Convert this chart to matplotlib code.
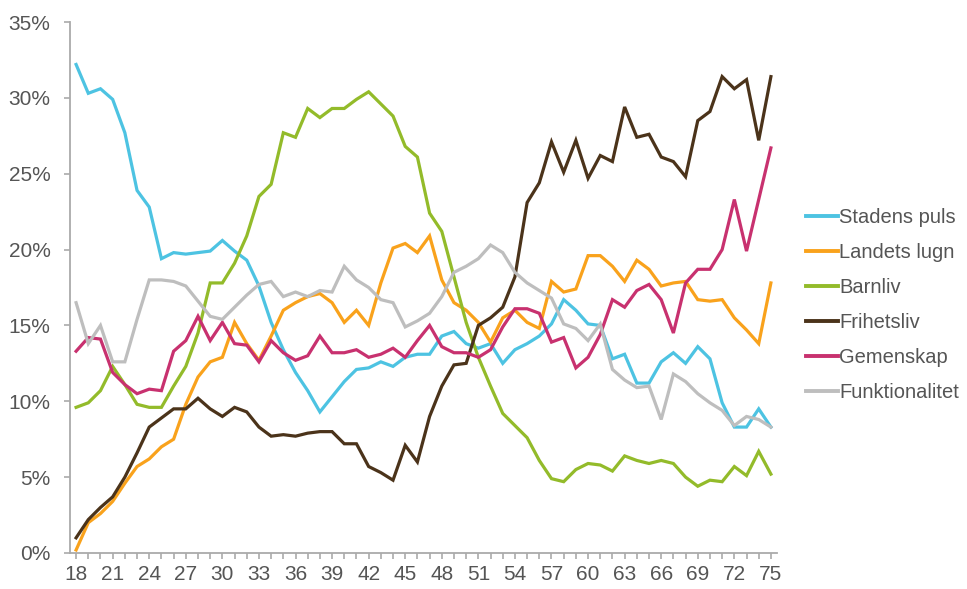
import matplotlib.pyplot as plt
import numpy as np
from matplotlib.ticker import MultipleLocator, FuncFormatter

plt.rcParams['font.family'] = ['Liberation Sans', 'DejaVu Sans']

ages = list(range(18, 76))

stadens_puls = [32.2, 30.3, 30.6, 29.9, 27.7, 23.9, 22.8, 19.4, 19.8, 19.7,
                19.8, 19.9, 20.6, 19.9, 19.3, 17.6, 15.2, 13.4, 11.9, 10.7,
                9.3, 10.3, 11.3, 12.1, 12.2, 12.6, 12.3, 12.9, 13.1, 13.1,
                14.3, 14.6, 13.8, 13.5, 13.8, 12.5, 13.4, 13.8, 14.3, 15.1,
                16.7, 16.0, 15.1, 15.0, 12.8, 13.1, 11.2, 11.2, 12.6, 13.2,
                12.5, 13.6, 12.8, 9.9, 8.3, 8.3, 9.5, 8.3]
landets_lugn = [0.2, 2.0, 2.6, 3.4, 4.6, 5.7, 6.2, 7.0, 7.5, 9.8,
                11.6, 12.6, 12.9, 15.2, 13.8, 12.7, 14.3, 16.0, 16.5, 16.9,
                17.1, 16.5, 15.2, 16.0, 15.0, 17.8, 20.1, 20.4, 19.8, 20.9,
                18.0, 16.5, 16.0, 15.2, 13.9, 15.5, 16.0, 15.2, 14.8, 17.9,
                17.2, 17.4, 19.6, 19.6, 18.9, 17.9, 19.3, 18.7, 17.6, 17.8,
                17.9, 16.7, 16.6, 16.7, 15.5, 14.7, 13.8, 17.8]
barnliv = [9.6, 9.9, 10.7, 12.3, 11.1, 9.8, 9.6, 9.6, 11.0, 12.3,
           14.5, 17.8, 17.8, 19.1, 20.9, 23.5, 24.3, 27.7, 27.4, 29.3,
           28.7, 29.3, 29.3, 29.9, 30.4, 29.6, 28.8, 26.8, 26.1, 22.4,
           21.2, 18.2, 15.2, 12.9, 11.0, 9.2, 8.4, 7.6, 6.1, 4.9,
           4.7, 5.5, 5.9, 5.8, 5.4, 6.4, 6.1, 5.9, 6.1, 5.9,
           5.0, 4.4, 4.8, 4.7, 5.7, 5.1, 6.7, 5.2]
frihetsliv = [1.0, 2.2, 3.0, 3.7, 5.0, 6.6, 8.3, 8.9, 9.5, 9.5,
              10.2, 9.5, 9.0, 9.6, 9.3, 8.3, 7.7, 7.8, 7.7, 7.9,
              8.0, 8.0, 7.2, 7.2, 5.7, 5.3, 4.8, 7.1, 6.0, 9.0,
              11.0, 12.4, 12.5, 15.0, 15.5, 16.2, 18.2, 23.1, 24.4, 27.1,
              25.1, 27.2, 24.7, 26.2, 25.8, 29.4, 27.4, 27.6, 26.1, 25.8,
              24.8, 28.5, 29.1, 31.4, 30.6, 31.2, 27.2, 31.4]
gemenskap = [13.3, 14.2, 14.1, 11.9, 11.1, 10.5, 10.8, 10.7, 13.3, 14.0,
             15.6, 14.0, 15.2, 13.8, 13.7, 12.6, 14.0, 13.2, 12.7, 13.0,
             14.3, 13.2, 13.2, 13.4, 12.9, 13.1, 13.5, 12.9, 14.0, 15.0,
             13.6, 13.2, 13.2, 12.9, 13.4, 14.9, 16.1, 16.1, 15.8, 13.9,
             14.2, 12.2, 12.9, 14.4, 16.7, 16.2, 17.3, 17.7, 16.7, 14.5,
             17.8, 18.7, 18.7, 20.0, 23.3, 19.9, 23.3, 26.7]
funktionalitet = [16.5, 13.8, 15.0, 12.6, 12.6, 15.4, 18.0, 18.0, 17.9, 17.6,
                  16.6, 15.6, 15.4, 16.2, 17.0, 17.7, 17.9, 16.9, 17.2, 16.9,
                  17.3, 17.2, 18.9, 18.0, 17.5, 16.7, 16.5, 14.9, 15.3, 15.8,
                  16.9, 18.5, 18.9, 19.4, 20.3, 19.8, 18.5, 17.8, 17.3, 16.8,
                  15.1, 14.8, 14.0, 15.1, 12.1, 11.4, 10.9, 11.0, 8.8, 11.8,
                  11.3, 10.5, 9.9, 9.4, 8.4, 9.0, 8.8, 8.3]

names = ['Stadens puls', 'Landets lugn', 'Barnliv', 'Frihetsliv', 'Gemenskap', 'Funktionalitet']
series = [stadens_puls, landets_lugn, barnliv, frihetsliv, gemenskap, funktionalitet]
colors = ['#4DC3E2', '#F9A21C', '#93BB2A', '#4B331A', '#C8316F', '#BEBEBE']

fig = plt.figure(figsize=(9.67, 5.89), dpi=100)
ax = fig.add_axes([70/967, 36/589, 707/967, 531/589])

for name, vals, c in zip(names, series, colors):
    ax.plot(ages, vals, color=c, lw=2.3, label=name, solid_joinstyle='miter')

ax.set_xlim(17.5, 75.5)
ax.set_ylim(0, 35)
ax.xaxis.set_major_locator(MultipleLocator(3))
ax.xaxis.set_minor_locator(MultipleLocator(1))
ax.yaxis.set_major_locator(MultipleLocator(5))
ax.yaxis.set_major_formatter(FuncFormatter(lambda v, p: f'{v:.0f}%'))

for s in ['top', 'right']:
    ax.spines[s].set_visible(False)
for s in ['left', 'bottom']:
    ax.spines[s].set_color('#AAAAAA')
    ax.spines[s].set_linewidth(1.3)

ax.tick_params(axis='both', which='both', colors='#AAAAAA', length=4, width=1.2,
               labelcolor='#555555', labelsize=15)
ax.tick_params(axis='x', pad=5)
ax.tick_params(axis='y', pad=10)

leg = fig.legend(loc='upper left', bbox_to_anchor=(788/967, 1 - 190/589), frameon=False,
                 fontsize=14.5, handlelength=1.6, handletextpad=0.05,
                 labelspacing=0.79, labelcolor='#555555')
for line in leg.get_lines():
    line.set_linewidth(2.8)

fig.savefig('out.png', dpi=100)
